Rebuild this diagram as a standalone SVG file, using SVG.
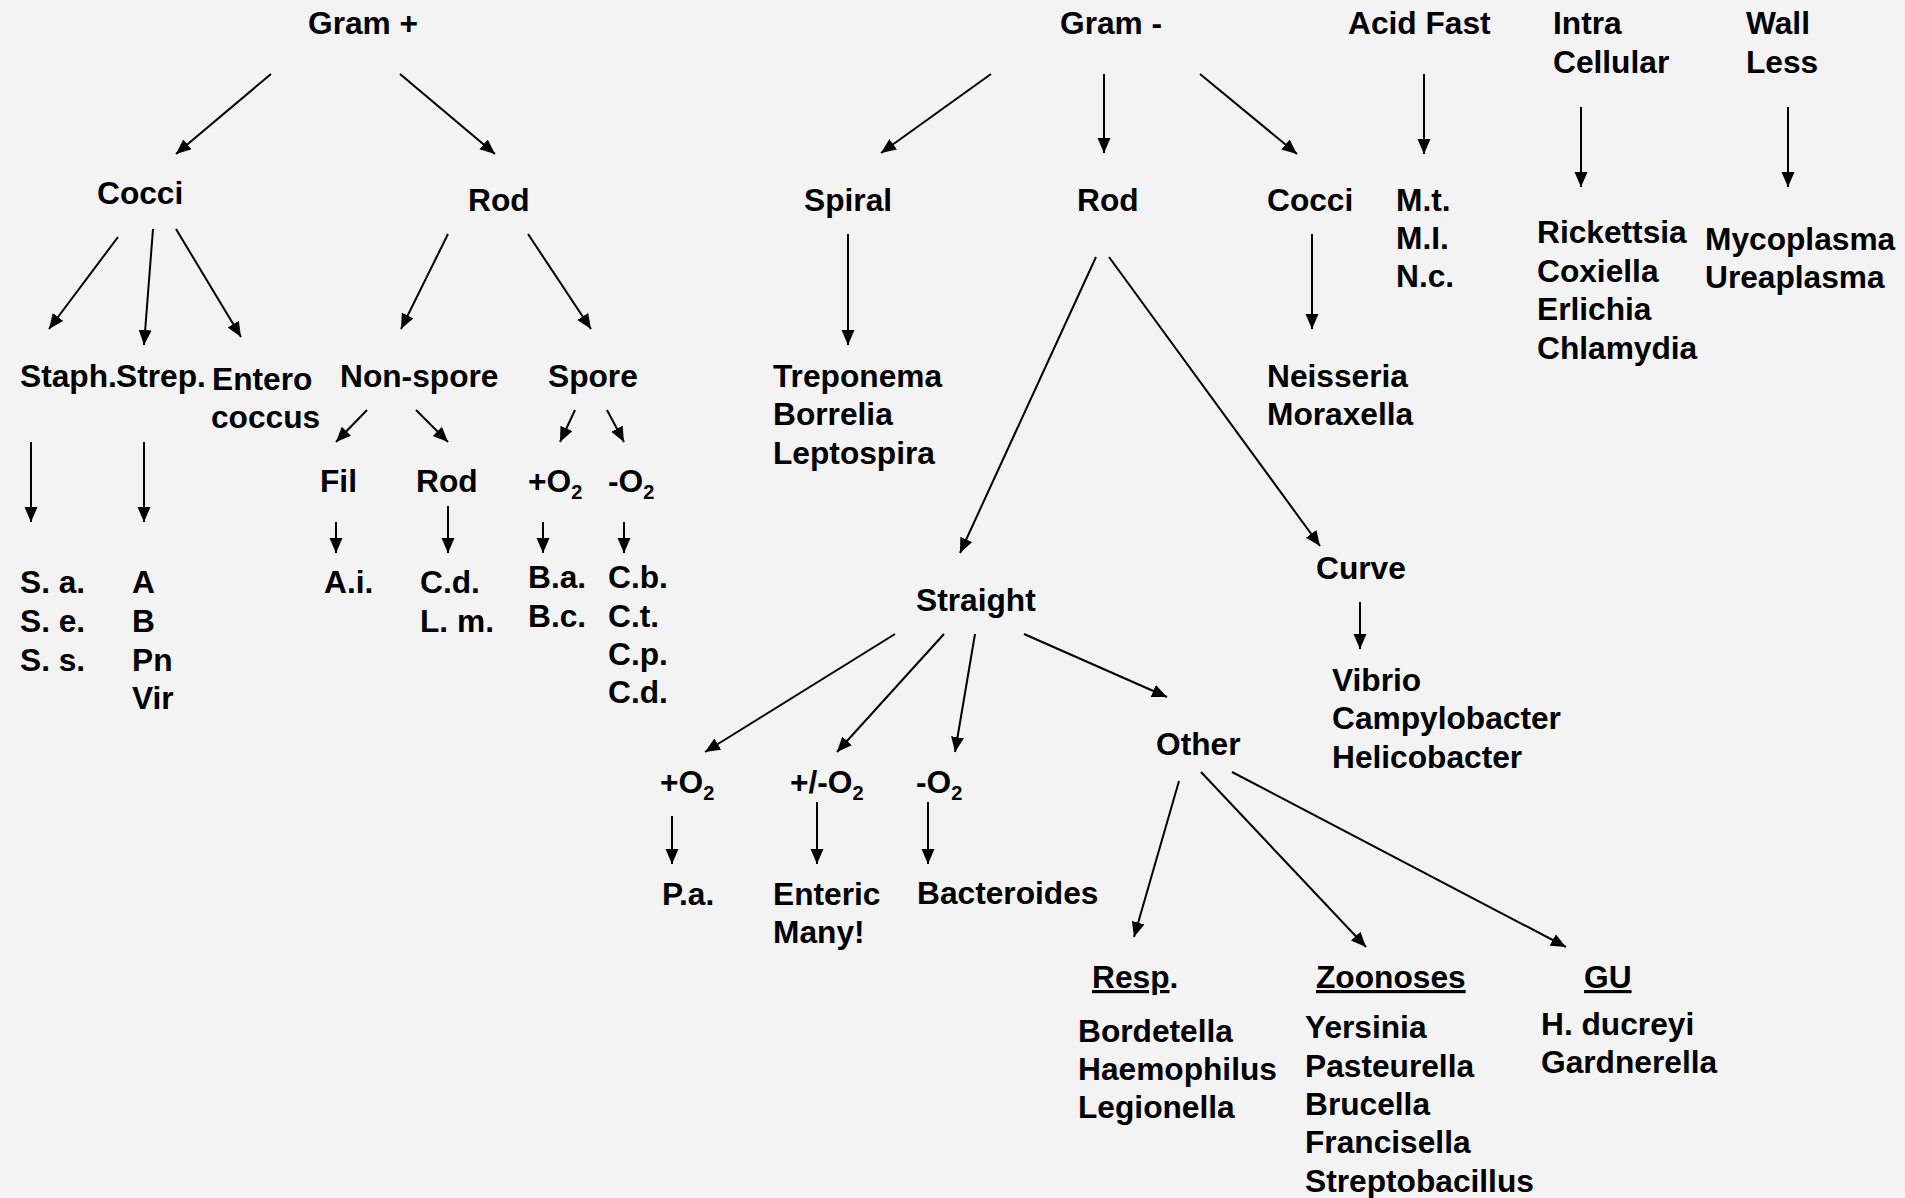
<svg xmlns="http://www.w3.org/2000/svg" width="1905" height="1198" viewBox="0 0 1905 1198">
<style>
text{font-family:"Liberation Sans",Arial,sans-serif;font-weight:bold;font-size:31.7px;fill:#000}
.c line{stroke:#000;stroke-width:2;marker-end:url(#ah)}
.sub{font-size:20px}
.u{text-decoration:underline}
</style>
<defs>
<marker id="ah" markerUnits="userSpaceOnUse" markerWidth="16" markerHeight="14" refX="15" refY="6.5" orient="auto">
<path d="M0,0 L15,6.5 L0,13 z" fill="#000"/>
</marker>
</defs>
<rect width="1905" height="1198" fill="#f3f3f3"/>
<g class="c" id="connectors">
<line x1="271" y1="74" x2="176" y2="154"/>
<line x1="400" y1="74" x2="495" y2="154"/>
<line x1="118" y1="237" x2="49" y2="329"/>
<line x1="153" y1="229" x2="144" y2="345"/>
<line x1="176" y1="229" x2="241" y2="337"/>
<line x1="448" y1="234" x2="401" y2="329"/>
<line x1="528" y1="234" x2="591" y2="329"/>
<line x1="367" y1="410" x2="336" y2="442"/>
<line x1="416" y1="410" x2="448" y2="442"/>
<line x1="575" y1="410" x2="560" y2="442"/>
<line x1="607" y1="410" x2="624" y2="442"/>
<line x1="31" y1="442" x2="31" y2="522"/>
<line x1="144" y1="442" x2="144" y2="522"/>
<line x1="336" y1="522" x2="336" y2="553"/>
<line x1="448" y1="506" x2="448" y2="553"/>
<line x1="543" y1="522" x2="543" y2="553"/>
<line x1="624" y1="522" x2="624" y2="553"/>
<line x1="991" y1="74" x2="881" y2="153"/>
<line x1="1104" y1="74" x2="1104" y2="153"/>
<line x1="1200" y1="74" x2="1297" y2="154"/>
<line x1="848" y1="234" x2="848" y2="345"/>
<line x1="1096" y1="257" x2="960" y2="553"/>
<line x1="1109" y1="257" x2="1320" y2="546"/>
<line x1="1312" y1="234" x2="1312" y2="329"/>
<line x1="1424" y1="74" x2="1424" y2="154"/>
<line x1="1581" y1="107" x2="1581" y2="187"/>
<line x1="1788" y1="107" x2="1788" y2="187"/>
<line x1="1360" y1="602" x2="1360" y2="649"/>
<line x1="895" y1="634" x2="705" y2="752"/>
<line x1="944" y1="634" x2="837" y2="752"/>
<line x1="975" y1="634" x2="955" y2="752"/>
<line x1="1024" y1="634" x2="1167" y2="697"/>
<line x1="672" y1="816" x2="672" y2="864"/>
<line x1="817" y1="802" x2="817" y2="864"/>
<line x1="928" y1="802" x2="928" y2="864"/>
<line x1="1179" y1="781" x2="1134" y2="937"/>
<line x1="1201" y1="772" x2="1366" y2="947"/>
<line x1="1232" y1="772" x2="1566" y2="947"/>
</g>
<g id="gram-pos"><text x="308" y="34">Gram +</text></g>
<g id="gp-cocci"><text x="97" y="204">Cocci</text></g>
<g id="gp-rod"><text x="468" y="211">Rod</text></g>
<g id="staph"><text x="20" y="387">Staph.</text></g>
<g id="strep"><text x="116" y="387">Strep.</text></g>
<g id="entero"><text x="212" y="390">Entero<tspan x="211" y="428">coccus</tspan></text></g>
<g id="nonspore"><text x="340" y="387">Non-spore</text></g>
<g id="spore"><text x="548" y="387">Spore</text></g>
<g id="fil"><text x="320" y="492">Fil</text></g>
<g id="ns-rod"><text x="416" y="492">Rod</text></g>
<g id="sp-plus"><text x="528" y="492">+O<tspan class="sub" dy="7">2</tspan></text></g>
<g id="sp-minus"><text x="608" y="492">-O<tspan class="sub" dy="7">2</tspan></text></g>
<g id="staph-list"><text x="20" y="593">S. a.<tspan x="20" y="632">S. e.</tspan><tspan x="20" y="671">S. s.</tspan></text></g>
<g id="strep-list"><text x="132" y="593">A<tspan x="132" y="632">B</tspan><tspan x="132" y="671">Pn</tspan><tspan x="132" y="709">Vir</tspan></text></g>
<g id="ai"><text x="324" y="593">A.i.</text></g>
<g id="cd-lm"><text x="420" y="593">C.d.<tspan x="420" y="632">L. m.</tspan></text></g>
<g id="ba-bc"><text x="528" y="588">B.a.<tspan x="528" y="627">B.c.</tspan></text></g>
<g id="clost"><text x="608" y="588">C.b.<tspan x="608" y="627">C.t.</tspan><tspan x="608" y="665">C.p.</tspan><tspan x="608" y="703">C.d.</tspan></text></g>
<g id="gram-neg"><text x="1060" y="34">Gram -</text></g>
<g id="spiral"><text x="804" y="211">Spiral</text></g>
<g id="gn-rod"><text x="1077" y="211">Rod</text></g>
<g id="gn-cocci"><text x="1267" y="211">Cocci</text></g>
<g id="spiral-list"><text x="773" y="387">Treponema<tspan x="773" y="425">Borrelia</tspan><tspan x="773" y="464">Leptospira</tspan></text></g>
<g id="cocci-list"><text x="1267" y="387">Neisseria<tspan x="1267" y="425">Moraxella</tspan></text></g>
<g id="acidfast"><text x="1348" y="34">Acid Fast</text></g>
<g id="af-list"><text x="1396" y="211">M.t.<tspan x="1396" y="249">M.I.</tspan><tspan x="1396" y="287">N.c.</tspan></text></g>
<g id="intra"><text x="1553" y="34">Intra<tspan x="1553" y="73">Cellular</tspan></text></g>
<g id="wall"><text x="1746" y="34">Wall<tspan x="1746" y="73">Less</tspan></text></g>
<g id="intra-list"><text x="1537" y="243">Rickettsia<tspan x="1537" y="282">Coxiella</tspan><tspan x="1537" y="320">Erlichia</tspan><tspan x="1537" y="359">Chlamydia</tspan></text></g>
<g id="wall-list"><text x="1705" y="250">Mycoplasma<tspan x="1705" y="288">Ureaplasma</tspan></text></g>
<g id="straight"><text x="916" y="611">Straight</text></g>
<g id="curve"><text x="1316" y="579">Curve</text></g>
<g id="curve-list"><text x="1332" y="691">Vibrio<tspan x="1332" y="729">Campylobacter</tspan><tspan x="1332" y="768">Helicobacter</tspan></text></g>
<g id="st-plus"><text x="660" y="793">+O<tspan class="sub" dy="7">2</tspan></text></g>
<g id="st-pm"><text x="790" y="793">+/-O<tspan class="sub" dy="7">2</tspan></text></g>
<g id="st-minus"><text x="916" y="793">-O<tspan class="sub" dy="7">2</tspan></text></g>
<g id="other"><text x="1156" y="755">Other</text></g>
<g id="pa"><text x="662" y="905">P.a.</text></g>
<g id="enteric"><text x="773" y="905">Enteric<tspan x="773" y="943">Many!</tspan></text></g>
<g id="bacteroides"><text x="917" y="904">Bacteroides</text></g>
<g id="resp"><text x="1092" y="988"><tspan class="u">Resp</tspan>.</text></g>
<g id="zoonoses"><text x="1316" y="988" class="u">Zoonoses</text></g>
<g id="gu"><text x="1584" y="988" class="u">GU</text></g>
<g id="resp-list"><text x="1078" y="1042">Bordetella<tspan x="1078" y="1080">Haemophilus</tspan><tspan x="1078" y="1118">Legionella</tspan></text></g>
<g id="zoo-list"><text x="1305" y="1038">Yersinia<tspan x="1305" y="1077">Pasteurella</tspan><tspan x="1305" y="1115">Brucella</tspan><tspan x="1305" y="1153">Francisella</tspan><tspan x="1305" y="1192">Streptobacillus</tspan></text></g>
<g id="gu-list"><text x="1541" y="1035">H. ducreyi<tspan x="1541" y="1073">Gardnerella</tspan></text></g>
</svg>
